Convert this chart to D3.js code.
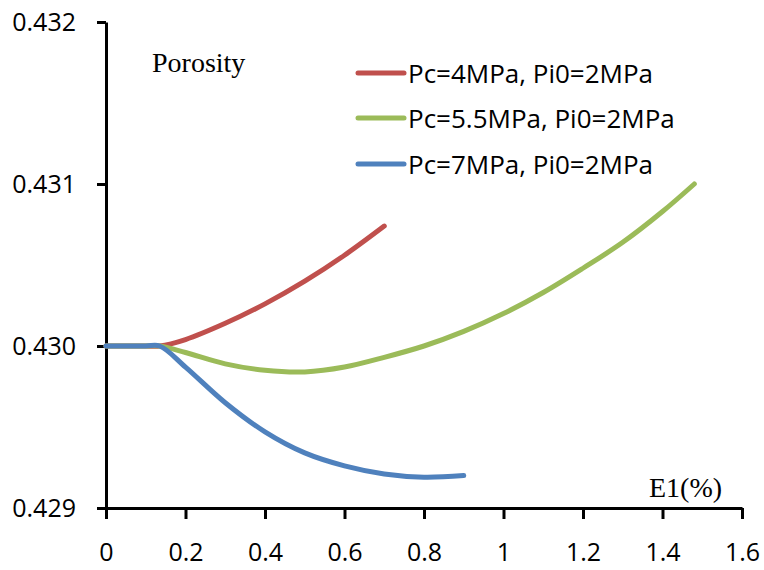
<!DOCTYPE html>
<html>
<head>
<meta charset="utf-8">
<script src="https://cdn.jsdelivr.net/npm/d3@7"></script>
<style>
  html, body { margin: 0; padding: 0; background: #ffffff; }
  svg { display: block; }
</style>
</head>
<body>
<svg id="chart" width="764" height="570"></svg>
<script>
// Strain E1 (%) and porosity for three confining pressures
const redX   = [0, 0.1, 0.135, 0.2, 0.3, 0.4, 0.5, 0.6, 0.7];
const redY   = [0.43000, 0.43000, 0.43000, 0.43004, 0.43014, 0.43026, 0.43040, 0.43056, 0.43074];
const greenX = [0, 0.1, 0.135, 0.2, 0.3, 0.4, 0.5, 0.6, 0.7, 0.8, 0.9, 1.0, 1.1, 1.2, 1.3, 1.4, 1.48];
const greenY = [0.43000, 0.43000, 0.43000, 0.42996, 0.42989, 0.42985, 0.42984, 0.42987, 0.42993, 0.43000, 0.43009, 0.43020, 0.43033, 0.43048, 0.43064, 0.43083, 0.43100];
const blueX  = [0, 0.1, 0.135, 0.2, 0.3, 0.4, 0.5, 0.6, 0.7, 0.8, 0.9];
const blueY  = [0.43000, 0.43000, 0.43000, 0.42987, 0.42965, 0.42947, 0.42934, 0.42926, 0.42921, 0.42919, 0.42920];

const seriesNames = ["Pc=4MPa, Pi0=2MPa", "Pc=5.5MPa, Pi0=2MPa", "Pc=7MPa, Pi0=2MPa"];
const xTicks = [0, 0.2, 0.4, 0.6, 0.8, 1, 1.2, 1.4, 1.6];
const yTicks = [0.429, 0.430, 0.431, 0.432];

const series = [
  { name: seriesNames[0], color: "#C0504D", pts: redX.map((v, i) => [v, redY[i]]) },
  { name: seriesNames[1], color: "#9BBB59", pts: greenX.map((v, i) => [v, greenY[i]]) },
  { name: seriesNames[2], color: "#4F81BD", pts: blueX.map((v, i) => [v, blueY[i]]) }
];

const svg = d3.select("#chart");
const plot = { left: 106, right: 742, top: 22, bottom: 508 };

const x = d3.scaleLinear().domain([0, 1.6]).range([plot.left, plot.right]);
const y = d3.scaleLinear().domain([0.429, 0.432]).range([plot.bottom, plot.top]);

const tickFont = "'Open Sans', 'Noto Sans', sans-serif";

// Y axis
const yAxis = svg.append("g")
  .attr("transform", `translate(${plot.left},0)`)
  .call(d3.axisLeft(y).tickValues(yTicks).tickFormat(d3.format(".3f"))
    .tickSize(9).tickSizeOuter(0).tickPadding(21));

// X axis
const xAxis = svg.append("g")
  .attr("transform", `translate(0,${plot.bottom})`)
  .call(d3.axisBottom(x).tickValues(xTicks).tickFormat(d => d3.format("")(d))
    .tickSize(11).tickSizeOuter(0).tickPadding(24));

[yAxis, xAxis].forEach(g => {
  g.select(".domain").attr("stroke", "#000").attr("stroke-width", 3);
  g.selectAll(".tick line").attr("stroke", "#000").attr("stroke-width", 3);
  g.selectAll(".tick text")
    .attr("fill", "#000")
    .style("font-family", tickFont)
    .style("font-size", "25px");
});

// Smoothed curves
const line = d3.line()
  .x(d => x(d[0]))
  .y(d => y(d[1]))
  .curve(d3.curveCatmullRom.alpha(0.5));

svg.append("g").selectAll("path")
  .data(series)
  .join("path")
  .attr("d", d => line(d.pts))
  .attr("fill", "none")
  .attr("stroke", d => d.color)
  .attr("stroke-width", 5)
  .attr("stroke-linecap", "round")
  .attr("stroke-linejoin", "round");

// Axis titles
svg.append("text")
  .attr("x", 152).attr("y", 72)
  .style("font-family", "'Liberation Serif', 'Times New Roman', serif")
  .style("font-size", "28px")
  .attr("fill", "#000")
  .text("Porosity");

svg.append("text")
  .attr("x", 649).attr("y", 497)
  .style("font-family", "'Liberation Serif', 'Times New Roman', serif")
  .style("font-size", "28px")
  .attr("fill", "#000")
  .text("E1(%)");

// Legend
const legendY = [73, 118, 164];
const legend = svg.append("g").selectAll("g")
  .data(series)
  .join("g")
  .attr("transform", (d, i) => `translate(0,${legendY[i]})`);

legend.append("line")
  .attr("x1", 358).attr("x2", 404)
  .attr("y1", 0).attr("y2", 0)
  .attr("stroke", d => d.color)
  .attr("stroke-width", 5)
  .attr("stroke-linecap", "round");

legend.append("text")
  .attr("x", 408).attr("y", 10)
  .style("font-family", tickFont)
  .style("font-size", "26px")
  .attr("fill", "#000")
  .text(d => d.name);
</script>
</body>
</html>
